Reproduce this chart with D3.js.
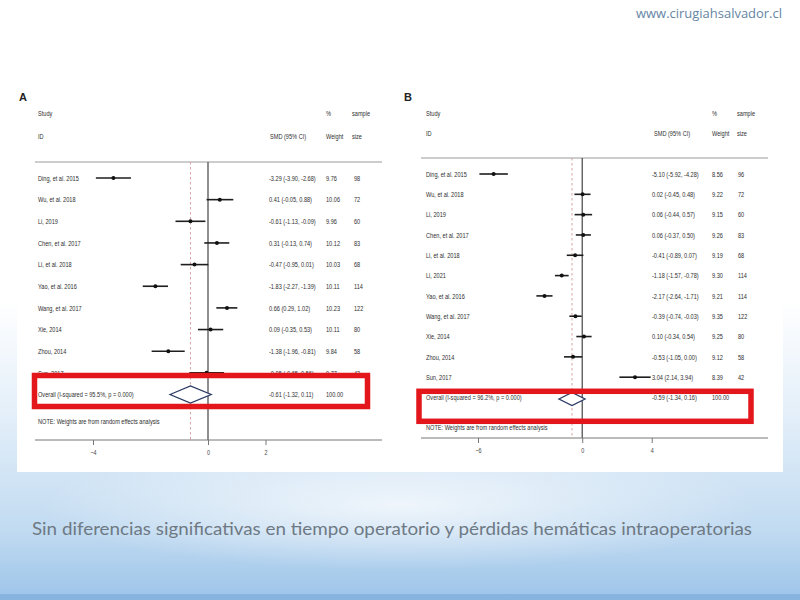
<!DOCTYPE html>
<html><head><meta charset="utf-8">
<script src="https://cdn.jsdelivr.net/npm/d3@7"></script>
<style>html,body{margin:0;padding:0;background:#fff;}svg{display:block;}</style>
</head><body>
<svg id="c" width="800" height="600"></svg>
<script>
// ---- Panel A data ----
const studiesA = ["Ding, et al. 2015","Wu, et al. 2018","Li, 2019","Chen, et al. 2017","Li, et al. 2018","Yao, et al. 2016","Wang, et al. 2017","Xie, 2014","Zhou, 2014","Sun, 2017"];
const smdA  = [-3.29, 0.41, -0.61, 0.31, -0.47, -1.83, 0.66, 0.09, -1.38, -0.05];
const lowA  = [-3.90, -0.05, -1.13, -0.13, -0.95, -2.27, 0.29, -0.35, -1.96, -0.65];
const highA = [-2.68, 0.88, -0.09, 0.74, 0.01, -1.39, 1.02, 0.53, -0.81, 0.56];
const weightA = ["9.76","10.06","9.96","10.12","10.03","10.11","10.23","10.11","9.84","9.77"];
const sizeA = ["98","72","60","83","68","114","122","80","58","42"];
const overallA = {label:"Overall  (I-squared = 95.5%, p = 0.000)", smd:-0.61, low:-1.32, high:0.11, weight:"100.00"};
const ticksA = [-4, 0, 2];

// ---- Panel B data ----
const studiesB = ["Ding, et al. 2015","Wu, et al. 2018","Li, 2019","Chen, et al. 2017","Li, et al. 2018","Li, 2021","Yao, et al. 2016","Wang, et al. 2017","Xie, 2014","Zhou, 2014","Sun, 2017"];
const smdB  = [-5.10, 0.02, 0.06, 0.06, -0.41, -1.18, -2.17, -0.39, 0.10, -0.53, 3.04];
const lowB  = [-5.92, -0.45, -0.44, -0.37, -0.89, -1.57, -2.64, -0.74, -0.34, -1.05, 2.14];
const highB = [-4.28, 0.48, 0.57, 0.50, 0.07, -0.78, -1.71, -0.03, 0.54, -0.00, 3.94];
const weightB = ["8.56","9.22","9.15","9.26","9.19","9.30","9.21","9.35","9.25","9.12","8.39"];
const sizeB = ["96","72","60","83","68","114","114","122","80","58","42"];
const overallB = {label:"Overall  (I-squared = 96.2%, p = 0.000)", smd:-0.59, low:-1.34, high:0.16, weight:"100.00"};
const ticksB = [-6, 0, 4];

const caption = "Sin diferencias significativas en tiempo operatorio y pérdidas hemáticas intraoperatorias";
const watermark = "www.cirugiahsalvador.cl";

const svg = d3.select("#c");
const defs = svg.append("defs");
const lg = defs.append("linearGradient").attr("id","bg").attr("x1",0).attr("y1",0).attr("x2",0).attr("y2",1);
[[0,"#ffffff"],[0.5,"#ffffff"],[0.7,"#e2eef9"],[0.88,"#c2dbf1"],[1,"#9cc4e9"]].forEach(s=>lg.append("stop").attr("offset",s[0]).attr("stop-color",s[1]));
const rg = defs.append("radialGradient").attr("id","glow").attr("cx",0.5).attr("cy",0.5).attr("r",0.5);
rg.append("stop").attr("offset",0).attr("stop-color","#ffffff").attr("stop-opacity",0.7);
rg.append("stop").attr("offset",1).attr("stop-color","#ffffff").attr("stop-opacity",0);

svg.append("rect").attr("width",800).attr("height",600).attr("fill","url(#bg)");
svg.append("ellipse").attr("cx",400).attr("cy",505).attr("rx",360).attr("ry",65).attr("fill","url(#glow)");
svg.append("rect").attr("x",0).attr("y",594).attr("width",800).attr("height",6).attr("fill","#86b4de");
svg.append("rect").attr("x",17).attr("y",70).attr("width",766).attr("height",402).attr("fill","#ffffff");

svg.append("text").attr("x",782).attr("y",18).attr("text-anchor","end")
  .attr("font-family","Open Sans").attr("font-size",12.5).attr("fill","#6485a4")
  .attr("textLength",146).attr("lengthAdjust","spacingAndGlyphs").text(watermark);

svg.append("text").attr("x",32).attr("y",535).attr("font-family","Lato").attr("font-size",17)
  .attr("fill","#6e7984").attr("textLength",720).attr("lengthAdjust","spacingAndGlyphs").text(caption);

const SX = 0.72;
function txt(g, x, y, s, opts={}) {
  return g.append("text").attr("transform",`translate(${x},${y}) scale(${SX},1)`)
    .attr("font-family","Liberation Sans").attr("font-size",opts.size||7.8)
    .attr("fill",opts.fill||"#2e2e2e").attr("font-weight",opts.weight||"normal").text(s);
}

function panel(cfg) {
  const g = svg.append("g");
  const x = d3.scaleLinear().domain(cfg.domain).range(cfg.range);
  const n = cfg.studies.length;
  const y = d3.scalePoint().domain(d3.range(n+1)).range([cfg.yFirst, cfg.yOverall]);

  g.append("text").attr("x",cfg.letterX).attr("y",101).attr("font-family","Liberation Sans")
    .attr("font-weight","bold").attr("font-size",11).attr("fill","#222").text(cfg.letter);

  txt(g, cfg.labelX, 116, "Study");
  txt(g, cfg.labelX, cfg.idY, "ID");
  txt(g, cfg.ciHeadX, cfg.idY, "SMD (95% CI)");
  txt(g, cfg.wX, 116, "%");
  txt(g, cfg.wX, cfg.idY, "Weight");
  txt(g, cfg.sX, 116, "sample");
  txt(g, cfg.sX, cfg.idY, "size");

  g.append("line").attr("x1",cfg.lineX[0]).attr("x2",cfg.lineX[1]).attr("y1",cfg.headY).attr("y2",cfg.headY)
    .attr("stroke","#9a9a9a").attr("stroke-width",1);
  g.append("line").attr("x1",x(cfg.overall.smd)).attr("x2",x(cfg.overall.smd)).attr("y1",cfg.headY).attr("y2",cfg.axisY)
    .attr("stroke","#d9a3a3").attr("stroke-width",1).attr("stroke-dasharray","2.5,2.5");
  g.append("line").attr("x1",x(0)).attr("x2",x(0)).attr("y1",cfg.headY).attr("y2",cfg.axisY)
    .attr("stroke","#444").attr("stroke-width",1.2);

  const ax = g.append("g").attr("transform",`translate(0,${cfg.axisY})`)
    .call(d3.axisBottom(x).tickValues(cfg.ticks).tickSize(5).tickFormat(d3.format("d")));
  ax.select(".domain").remove();
  ax.selectAll(".tick line").attr("stroke","#777");
  ax.selectAll(".tick text").attr("font-family","Liberation Sans").attr("font-size",7.5).attr("fill","#444")
    .attr("transform",`scale(${SX},1)`).attr("dy","0.9em");
  g.append("line").attr("x1",cfg.lineX[0]).attr("x2",cfg.lineX[1]).attr("y1",cfg.axisY).attr("y2",cfg.axisY)
    .attr("stroke","#777").attr("stroke-width",1);

  cfg.studies.forEach((s,i)=>{
    const yy = y(i);
    txt(g, cfg.labelX, yy+2.7, s);
    g.append("line").attr("x1",x(cfg.low[i])).attr("x2",x(cfg.high[i])).attr("y1",yy).attr("y2",yy)
      .attr("stroke","#1e1e1e").attr("stroke-width",1.6);
    g.append("circle").attr("cx",x(cfg.smd[i])).attr("cy",yy).attr("r",2).attr("fill","#111");
    const ci = `${cfg.smd[i].toFixed(2)} (${cfg.low[i].toFixed(2)}, ${cfg.high[i].toFixed(2)})`;
    txt(g, cfg.ciX, yy+2.7, ci);
    txt(g, cfg.wX, yy+2.7, cfg.weight[i]);
    txt(g, cfg.sX2, yy+2.7, cfg.size[i]);
  });

  const oy = y(n);
  const o = cfg.overall;
  txt(g, cfg.labelX, oy+2.7, o.label);
  const dy = cfg.diamondH, dc = oy + cfg.diamondOff;
  g.append("path").attr("d",`M${x(o.low)},${dc} L${x(o.smd)},${dc-dy} L${x(o.high)},${dc} L${x(o.smd)},${dc+dy} Z`)
    .attr("fill","#fff").attr("stroke","#2c3a63").attr("stroke-width",1.3);
  txt(g, cfg.ciX, oy+2.7, `${o.smd.toFixed(2)} (${o.low.toFixed(2)}, ${o.high.toFixed(2)})`);
  txt(g, cfg.wX, oy+2.7, o.weight);

  txt(g, cfg.labelX, cfg.noteY, "NOTE: Weights are from random effects analysis");

  g.append("rect").attr("x",cfg.box[0]).attr("y",cfg.box[1]).attr("width",cfg.box[2]).attr("height",cfg.box[3])
    .attr("fill","none").attr("stroke","#e3161c").attr("stroke-width",5.5);
}

panel({letter:"A", letterX:19, studies:studiesA, smd:smdA, low:lowA, high:highA, weight:weightA, size:sizeA,
  overall:overallA, ticks:ticksA, domain:[-4,2], range:[93,265.5], yFirst:178, yOverall:394.5,
  labelX:38, idY:139, ciHeadX:270, ciX:269, wX:326, sX:352, sX2:354,
  lineX:[35,382], headY:162, axisY:440, noteY:424, diamondH:8.5, diamondOff:0,
  box:[34.5,375.5,333,31]});

panel({letter:"B", letterX:404, studies:studiesB, smd:smdB, low:lowB, high:highB, weight:weightB, size:sizeB,
  overall:overallB, ticks:ticksB, domain:[-6,4], range:[478,651.7], yFirst:174, yOverall:397.5,
  labelX:426, idY:136, ciHeadX:654, ciX:652, wX:712, sX:737, sX2:738,
  lineX:[421,768], headY:158, axisY:438, noteY:430, diamondH:6.5, diamondOff:1.5,
  box:[419,391.3,332,30]});
</script>
</body></html>
